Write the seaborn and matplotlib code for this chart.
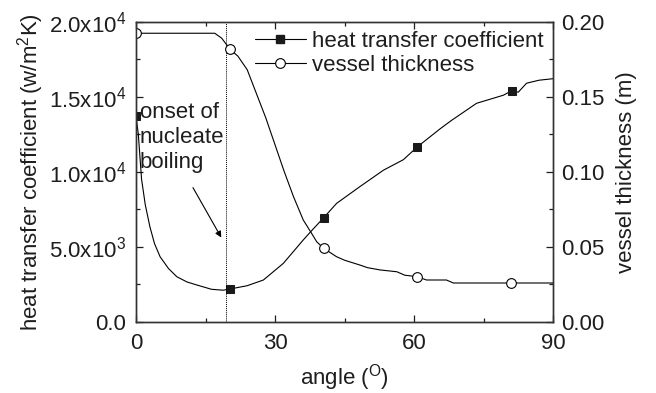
import numpy as np
import pandas as pd
import matplotlib
matplotlib.use("Agg")
import matplotlib.pyplot as plt
import seaborn as sns
from matplotlib.lines import Line2D
from matplotlib.ticker import FixedLocator, FuncFormatter, MultipleLocator

# ---- data ----
h_angle = [0, 0.5, 1.2, 2.0, 3.0, 4.0, 5.2, 7.0, 8.8, 11.0, 13.1, 16.3, 18.8, 20.3,
           24.0, 27.5, 31.8, 36.1, 38.0, 40.5, 43.3, 48.3, 53.4, 57.7, 60.7, 65.6,
           68.0, 73.5, 79.3, 81.1, 82.5, 84.3, 87.0, 90.0]
h_value = [13700, 12500, 9500, 7800, 6330, 5200, 4330, 3550, 3000, 2650, 2450, 2160, 2100, 2180,
           2400, 2780, 3890, 5450, 6100, 6930, 7890, 9000, 10100, 10800, 11650, 12850,
           13400, 14560, 15100, 15400, 15300, 15900, 16100, 16200]
h_mark_angle = [0, 20.3, 40.5, 60.7, 81.1]

v_angle = [0, 17.0, 18.5, 20.3, 22.0, 24.0, 26.0, 28.0, 30.0, 32.0, 34.0, 36.1, 37.9,
           39.0, 40.5, 43.3, 45.0, 48.3, 50.0, 52.7, 56.3, 58.0, 60.7, 62.7, 67.0, 68.5,
           81.0, 90.0]
v_value = [0.1923, 0.1923, 0.189, 0.1816, 0.177, 0.168, 0.152, 0.136, 0.118, 0.100, 0.0833,
           0.0678, 0.0589, 0.0533, 0.0489, 0.0433, 0.041, 0.0378, 0.036, 0.0345, 0.0333, 0.031,
           0.030, 0.0278, 0.0278, 0.0258, 0.0258, 0.0258]
v_mark_angle = [0, 20.3, 40.5, 60.7, 81.0]

onset_angle = 19.4
left_ticks = [0, 5000, 10000, 15000, 20000]
left_tick_labels = ["0.0", r"5.0x10$^3$", r"1.0x10$^4$", r"1.5x10$^4$", r"2.0x10$^4$"]
right_ticks = [0.00, 0.05, 0.10, 0.15, 0.20]
x_ticks = [0, 30, 60, 90]

# ---- styling ----
sns.set_style("ticks")
plt.rcParams["font.family"] = ["Liberation Sans", "DejaVu Sans"]
plt.rcParams["mathtext.fontset"] = "custom"
plt.rcParams["mathtext.rm"] = "Liberation Sans"
plt.rcParams["mathtext.default"] = "regular"
FS = 16
TXT = "#1e1e1e"

fig = plt.figure(figsize=(6.56, 3.93), dpi=100)
ax = fig.add_axes([136/656, 1-321.7/393, (553-136)/656, 300/393])
ax2 = ax.twinx()

hdf = pd.DataFrame({"angle": h_angle, "h": h_value})
vdf = pd.DataFrame({"angle": v_angle, "v": v_value})
h_idx = [h_angle.index(a) for a in h_mark_angle]
v_idx = [v_angle.index(a) for a in v_mark_angle]

sns.lineplot(data=hdf, x="angle", y="h", ax=ax, color="black", lw=0.8,
             marker="s", markersize=6, markerfacecolor="#1a1a1a", markeredgecolor="#1a1a1a",
             markevery=h_idx, legend=False, sort=False)
sns.lineplot(data=vdf, x="angle", y="v", ax=ax2, color="black", lw=0.8,
             marker="o", markersize=7, markerfacecolor="white", markeredgecolor="black",
             markeredgewidth=0.8, markevery=v_idx, legend=False, sort=False)

ax.axvline(onset_angle, color="black", lw=0.7, ls=(0, (1, 1)))

ax.set_xlim(0, 90)
ax.set_ylim(0, 20000)
ax2.set_ylim(0, 0.20)

ax.xaxis.set_major_locator(FixedLocator(x_ticks))
ax.xaxis.set_minor_locator(MultipleLocator(15))
ax.yaxis.set_major_locator(FixedLocator(left_ticks))
ax.yaxis.set_major_formatter(FuncFormatter(lambda v, p: left_tick_labels[left_ticks.index(v)] if v in left_ticks else ""))
ax.yaxis.set_minor_locator(MultipleLocator(2500))
ax2.yaxis.set_major_locator(FixedLocator(right_ticks))
ax2.yaxis.set_major_formatter(FuncFormatter(lambda v, p: f"{v:.2f}"))
ax2.yaxis.set_minor_locator(MultipleLocator(0.025))

for a in (ax, ax2):
    for s in a.spines.values():
        s.set_visible(True)
        s.set_linewidth(1.0)
        s.set_color("#333333")
ax.tick_params(which="both", direction="in", top=True, labelsize=FS, colors=TXT)
ax.tick_params(which="major", length=5, width=0.9)
ax.tick_params(which="minor", length=3, width=0.9)
ax.tick_params(axis="x", which="major", pad=8)
ax.tick_params(axis="y", which="major", pad=7)
ax.tick_params(axis="y", which="both", right=False)
ax2.tick_params(which="both", direction="in", labelsize=FS, colors=TXT)
ax2.tick_params(which="major", length=5, width=0.9, pad=6)
ax2.tick_params(which="minor", length=3, width=0.9)

ax.set_xlabel(r"angle ($^{O}$)", fontsize=FS, labelpad=6, color=TXT)
ax.set_ylabel(r"heat transfer coefficient (w/m$^2$K)", fontsize=FS, labelpad=2, color=TXT)
ax2.set_ylabel("vessel thickness (m)", fontsize=FS, labelpad=8, color=TXT)

ax.text(0.8, 12300, "onset of\nnucleate\nboiling", fontsize=FS, va="center", ha="left",
        linespacing=1.25, color=TXT)
ax.annotate("", xy=(18.7, 5450), xytext=(12.0, 9100),
            arrowprops=dict(arrowstyle="-|>", color="black", lw=0.8, mutation_scale=9))

handles = [
    Line2D([], [], color="black", lw=0.8, marker="s", markersize=6,
           markerfacecolor="#1a1a1a", markeredgecolor="#1a1a1a"),
    Line2D([], [], color="black", lw=0.8, marker="o", markersize=7,
           markerfacecolor="white", markeredgecolor="black", markeredgewidth=0.8),
]
leg = ax2.legend(handles, ["heat transfer coefficient", "vessel thickness"], loc="upper right",
                 frameon=False, fontsize=FS, handlelength=2.3, handletextpad=0.3,
                 borderaxespad=0.2, labelspacing=0.15, borderpad=0.2)
for t in leg.get_texts():
    t.set_color(TXT)

fig.savefig("out.png", dpi=100)
